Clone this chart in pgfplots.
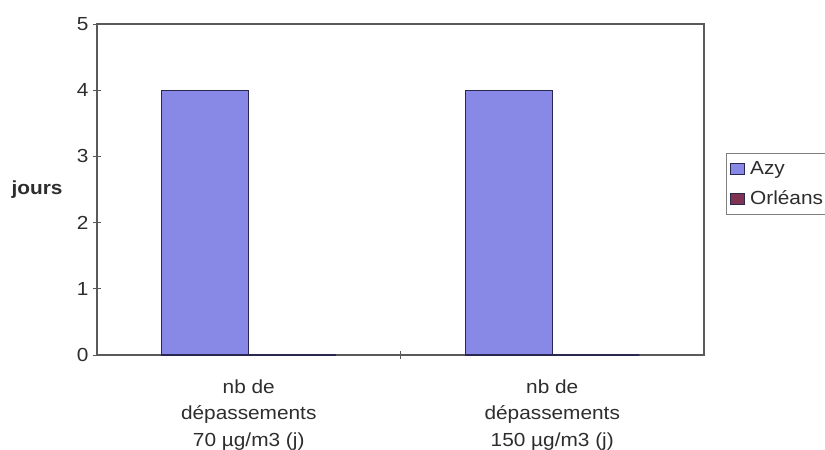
\documentclass[border=0pt]{standalone}
\usepackage{pgfplots}
\pgfplotsset{compat=1.18}
\usepackage{fontspec}
\setmainfont{Liberation Sans}[FakeStretch=1.1]
\definecolor{azy}{RGB}{136,136,230}
\definecolor{azyedge}{RGB}{40,40,80}
\definecolor{orl}{RGB}{128,50,80}
\definecolor{axc}{RGB}{90,90,90}
\definecolor{txt}{RGB}{45,45,45}
\begin{document}
\begin{tikzpicture}
\useasboundingbox (-97bp,-95bp) rectangle (728bp,355bp);
\begin{axis}[
  at={(0,0)}, anchor=south west,
  scale only axis, width=607bp, height=331bp,
  xmin=-0.5, xmax=1.5, ymin=0, ymax=5,
  ybar, bar width=87bp,
  axis line style={axc, line width=1.2bp},
  /pgf/number format/assume math mode=true,
  ytick={0,1,2,3,4,5}, ytick pos=left,
  tick align=center, major tick length=8bp,
  tick style={axc, line width=1bp},
  xtick={0,1}, xtick pos=bottom,
  xticklabels={{nb de\\dépassements\\70 µg/m3 (j)},{nb de\\dépassements\\150 µg/m3 (j)}},
  xtick style={draw=none},
  extra x ticks={0.5},
  extra x tick labels={},
  extra x tick style={xtick style={draw=axc, line width=1bp}},
  tick label style={font=\fontsize{19}{20}\selectfont, text=txt},
  xticklabel style={align=center, font=\fontsize{19}{26.5}\selectfont, yshift=-17bp},
  yticklabel style={xshift=-1bp},
  ylabel={\textbf{jours}},
  ylabel style={rotate=-90, at={(rel axis cs:0,0.5)}, anchor=center, xshift=-60bp, font=\fontsize{19}{20}\selectfont, text=txt},
  legend style={at={(rel axis cs:1.036,0.61)}, anchor=north west, draw=gray, line width=0.6bp,
    font=\fontsize{19}{20}\selectfont, text=txt, row sep=11bp, inner xsep=4bp, inner ysep=6bp},
  legend cell align=left,
  legend image code/.code={\draw[#1, line width=0.8bp] (0bp,-5.5bp) rectangle (14bp,5.5bp); \path (17bp,0bp);},
]
\addplot[fill=azy, draw=azyedge, line width=1.2bp, bar shift=-43.5bp] coordinates {(0,4) (1,4)};
\addplot[fill=orl, draw=azyedge, line width=1.2bp, bar shift=43.5bp] coordinates {(0,0) (1,0)};
\legend{Azy, Orléans}
\end{axis}
\end{tikzpicture}
\end{document}
